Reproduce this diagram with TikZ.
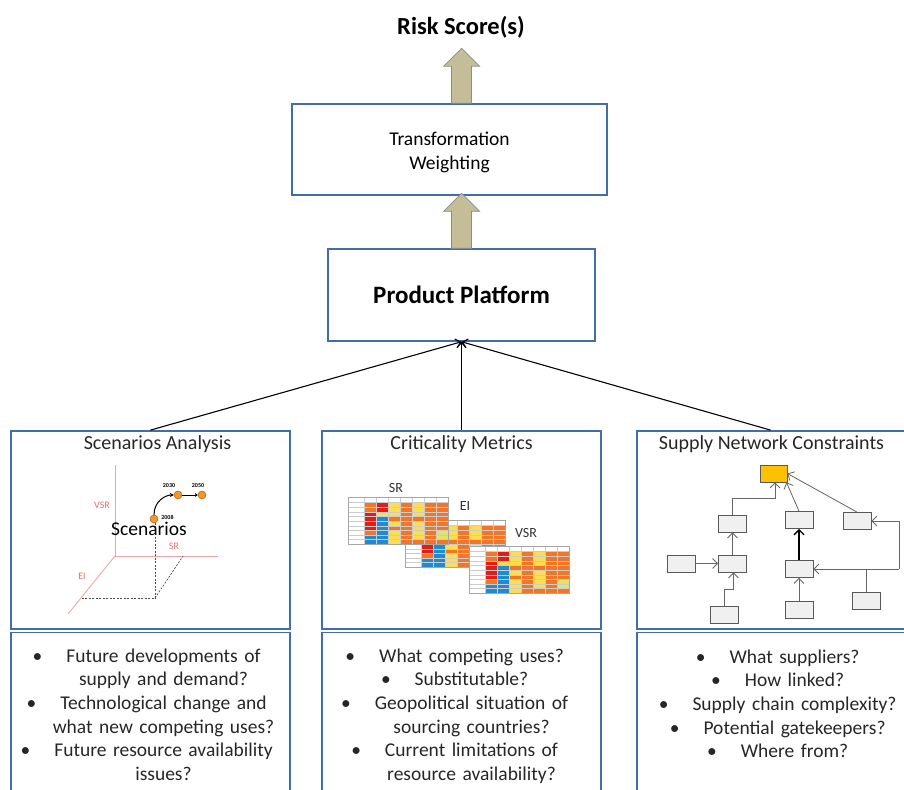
\documentclass[tikz,border=0pt]{standalone}
\usepackage{fontspec}
\setmainfont{Carlito}
\usetikzlibrary{arrows.meta,positioning}

\definecolor{panelblue}{RGB}{68,108,172}
\definecolor{arrowtan}{RGB}{196,189,151}
\definecolor{axisred}{RGB}{222,110,110}
\definecolor{dotorange}{RGB}{247,150,40}
\definecolor{keyyellow}{RGB}{255,192,0}
\definecolor{heatR}{RGB}{228,28,24}
\definecolor{heatO}{RGB}{242,118,40}
\definecolor{heatY}{RGB}{252,222,80}
\definecolor{heatB}{RGB}{30,140,210}
\definecolor{heatG}{RGB}{222,228,110}

\newcommand{\bul}{\leavevmode\llap{\textbullet\hspace{24pt}}}

\begin{document}
\begin{tikzpicture}[
        x=1pt, y=-1pt,
        font=\fontsize{19.5}{23.6}\selectfont,
        >={Straight Barb[length=5pt,width=9pt]},
        topbox/.style = {
            draw=panelblue, line width=1.5pt,
            align=center, inner sep=0pt,
        },
        panel/.style = {
            draw=panelblue, line width=1.8pt,
            minimum width=279pt, inner sep=0pt,
        },
        paneltitle/.style = {
            font=\fontsize{20}{24}\selectfont,
            inner sep=0pt, text=black!85,
        },
        items/.style = {
            align=center, text width=275pt,
            inner sep=0pt, text=black!85,
        },
        blockarrow/.style = {
            fill=arrowtan, draw=black!45, line width=0.7pt,
        },
        feed/.style = {->, line width=1.1pt},
        axis/.style = {draw=axisred!60, line width=0.9pt},
        guide/.style = {dash pattern=on 2pt off 1.5pt, line width=0.7pt, black!70},
        yeardot/.style = {
            circle, fill=dotorange, draw=orange!60!black,
            line width=0.4pt, minimum size=8pt, inner sep=0pt,
        },
        yearlbl/.style = {font=\fontsize{6}{6}\selectfont\bfseries, inner sep=0pt},
        axislbl/.style = {font=\fontsize{10}{10}\selectfont, text=axisred},
        tablbl/.style = {font=\fontsize{14}{14}\selectfont, text=black!80},
        cell/.style = {draw=black!20, line width=0.15pt},
        unit/.style = {
            draw=black!65, fill=black!6, line width=0.8pt,
            minimum width=28pt, minimum height=17pt, inner sep=0pt,
        },
        link/.style = {draw=black!60, line width=0.8pt, -{Straight Barb[length=5pt,width=10pt]}},
    ]

    \clip (0,0) rectangle (904,789);

    % Bovenste blokken
    \node[font=\fontsize{24.5}{28}\selectfont\bfseries] (risk) at (461,27) {Risk Score(s)};
    \node[topbox, minimum width=315pt, minimum height=91pt] (trans) at (449.5,149.5) {};
    \node[align=center] (transT) at ([yshift=-3pt]trans.center) {Transformation\\Weighting};
    \node[topbox, minimum width=267pt, minimum height=92pt,
        font=\fontsize{25}{30}\selectfont\bfseries] (prod) at (461.5,295) {Product Platform};

    \coordinate (up1) at (trans.north -| prod.north);
    \coordinate (up2) at (prod.north);
    \foreach \b in {up1, up2}
        \draw[blockarrow] ([xshift=-10pt]\b) -- ++(0,-37) -- ++(-8,0) -- ++(18,-18)
            -- ++(18,18) -- ++(-8,0) -- ++(0,37) -- cycle;

    % Panelen
    \node[panel, minimum height=198pt] (scen) at (150.5,530) {};
    \node[panel, minimum height=198pt] (crit) at (461.5,530) {};
    \node[panel, minimum height=198pt] (supp) at (776.5,530) {};
    \node[panel, minimum height=170pt] (scenQ) at (150.5,717.5) {};
    \node[panel, minimum height=170pt] (critQ) at (461.5,717.5) {};
    \node[panel, minimum height=170pt] (suppQ) at (776.5,717.5) {};

    \node[paneltitle, below=5pt of scen.north, xshift=7pt] (scenT) {Scenarios Analysis};
    \node[paneltitle, below=5pt of crit.north] (critT) {Criticality Metrics};
    \node[paneltitle, below=5pt of supp.north, xshift=-5pt] (suppT) {Supply Network Constraints};

    \draw[feed] (scen.north) -- (prod.south);
    \draw[feed] (crit.north) -- (prod.south);
    \draw[feed] ([xshift=-6pt]supp.north) -- (prod.south);

    % Scenario-assen
    \draw[axis] (115,465) -- (115,556) -- (218,556);
    \draw[axis] (115,556) -- (68,614);
    \draw[guide] (155,519) -- (155,598) -- (82,598);
    \draw[guide] (155,598) -- (183,556);
    \node[axislbl] (vsrL) at (102,505) {VSR};
    \node[axislbl] (srL) at (174,546) {SR};
    \node[axislbl] (eiL) at (82,576) {EI};

    \node[yeardot] (y2008) at (154,519) {};
    \node[yeardot] (y2030) at (178,495) {};
    \node[yeardot] (y2050) at (202,495) {};
    \node[yearlbl, right=3pt of y2008, yshift=1.5pt] {2008};
    \node[yearlbl, above=3pt of y2030, xshift=-9pt] {2030};
    \node[yearlbl, above=3pt of y2050, xshift=-4pt] {2050};
    \draw[-{Stealth[length=4pt,width=4pt]}, line width=1pt] (y2008.north)
        .. controls +(0,-14) and +(-8,0) .. (y2030.west);
    \draw[-{Stealth[length=3pt,width=4pt]}, line width=0.8pt] (y2030.east) -- (y2050.west);
    \node (scenW) at (149,529) {Scenarios};

    % Tabellen
    \foreach \tx/\ty in {405/520, 348/497, 469/546} {
        \fill[white] (\tx,\ty) rectangle ++(100,47);
        \foreach \j in {1,...,7}
            \draw[cell] (\tx+4+12*\j,\ty) rectangle ++(12,5.35);
        \foreach \row [count=\i] in {{O,R,Y,O,Y,O,O}, {O,R,Y,O,Y,O,O}, {R,Y,Y,O,Y,O,O},
                {R,B,O,O,O,O,O}, {R,B,Y,O,Y,O,O}, {R,B,O,O,Y,O,O},
                {O,B,Y,O,Y,O,G}, {B,B,Y,O,Y,O,G}, {B,B,Y,O,O,O,O}} {
            \draw[cell] (\tx,\ty+0.7+4.65*\i) rectangle ++(16,4.65);
            \foreach \c [count=\j] in \row
                \filldraw[cell, fill=heat\c] (\tx+4+12*\j,\ty+0.7+4.65*\i) rectangle ++(12,4.65);
        }
        \draw[black!35, line width=0.3pt] (\tx,\ty) rectangle ++(100,47);
    }
    \node[tablbl] (srT) at (396,488) {SR};
    \node[tablbl] (eiT) at (465,506) {EI};
    \node[tablbl] (vsrT) at (526,533) {VSR};

    % Netwerk
    \node[unit, fill=keyyellow, minimum width=27pt] (key) at (773.5,473.5) {};
    \node[unit] (nA) at (732.5,523.5) {};
    \node[unit] (nB) at (799,520) {};
    \node[unit] (nC) at (857,521) {};
    \node[unit] (nD) at (681,563.5) {};
    \node[unit] (nE) at (732.5,563.5) {};
    \node[unit] (nF) at (799,569) {};
    \node[unit] (nG) at (724,614.5) {};
    \node[unit] (nH) at (799,610) {};
    \node[unit] (nI) at (866.5,600.5) {};
    \coordinate (jn) at (899,569);

    \draw[link] (nA.north) -- ++(0,-16) -| ([xshift=1.5pt]key.south);
    \draw[link] (nB.north) -- ([xshift=-1pt]key.south east);
    \draw[link] (nC.north) -- (key.east);
    \draw[link] (nD) -- (nE);
    \draw[link] (nE) -- (nA);
    \draw[link] (nG.north) -- ++(0,-16) -| ([xshift=1pt]nE.south);
    \draw[link, draw=black, line width=1.3pt] (nF) -- (nB);
    \draw[link] (nH) -- (nF);
    \draw[draw=black!60, line width=0.8pt] (nI.north) |- (jn);
    \draw[link] (jn) -- (nF.east);
    \draw[link] (jn) |- (nC.east);

    % Vragen
    \node[items, below=17pt of scenQ.north, xshift=13pt] (scenL) {\bul Future developments of\\supply and demand?\\\bul Technological change and\\what new competing uses?\\\bul Future resource availability\\issues?};
    \node[items, below=17pt of critQ.north, xshift=10pt] (critL) {\bul What competing uses?\\\bul Substitutable?\\\bul Geopolitical situation of\\sourcing countries?\\\bul Current limitations of\\resource availability?};
    \node[items, below=18pt of suppQ.north, xshift=18pt] (suppL) {\bul What suppliers?\\\bul How linked?\\\bul Supply chain complexity?\\\bul Potential gatekeepers?\\\bul Where from?};
\end{tikzpicture}
\end{document}
